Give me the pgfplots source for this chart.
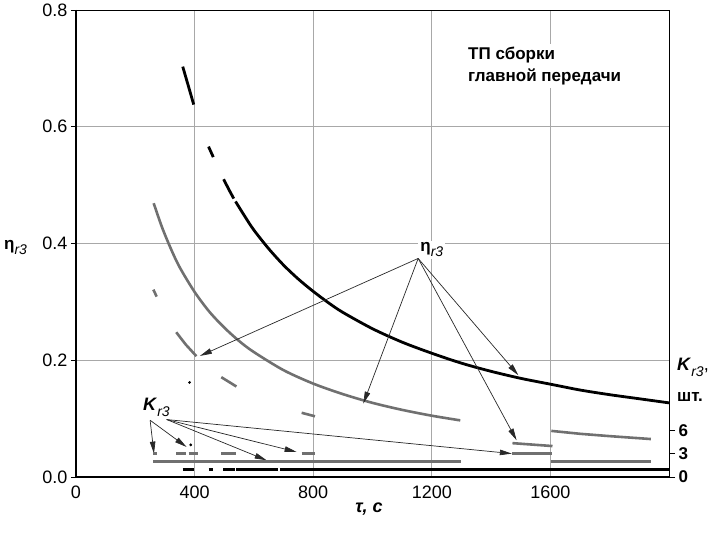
\documentclass[border=0pt]{standalone}
\usepackage{fontspec}
\setmainfont{Liberation Sans}
\usepackage{pgfplots}
\pgfplotsset{compat=1.18}
\usetikzlibrary{arrows.meta}

\definecolor{curvegray}{RGB}{112,112,112}
\definecolor{gridgray}{RGB}{168,168,168}
\definecolor{arrowgray}{RGB}{40,40,40}

\newcommand{\etar}{\textbf{η}\raisebox{-5pt}{\fontsize{14}{14}\selectfont\itshape r3}}
\newcommand{\Kr}{\textbf{\itshape K}\raisebox{-6pt}{\fontsize{14}{14}\selectfont\itshape r3}}

\tikzset{ann/.style={arrowgray, line width=0.7pt, -{Triangle[length=12pt,width=5.5pt]}}}

\begin{document}
\begin{tikzpicture}
\useasboundingbox (-76pt,-63pt) rectangle (635pt,477pt);

\begin{axis}[
    at={(0,0)}, anchor=south west,
    scale only axis, width=593pt, height=467pt,
    xmin=0, xmax=2000, ymin=0, ymax=0.8,
    xtick={0,400,800,1200,1600}, ytick={0,0.2,0.4,0.6,0.8},
    grid=major, grid style={gridgray, line width=0.7pt},
    axis line style={black, line width=0.8pt},
    ytick pos=left, tick align=outside, major tick length=5pt,
    xtick style={draw=none}, ytick style={black, line width=0.7pt},
    tick label style={font=\fontsize{18}{20}\selectfont, /pgf/number format/assume math mode=true},
    yticklabel style={/pgf/number format/.cd, fixed, fixed zerofill, precision=1},
    xticklabel style={/pgf/number format/1000 sep={}},
    unbounded coords=jump, clip=false,
]
% eta, black curve
\addplot[black, line width=2.8pt] coordinates {(360,0.703) (380,0.668) (397,0.638)};
\addplot[black, line width=2.8pt] coordinates {(447,0.566) (463,0.548)};
\addplot[black, line width=2.8pt] coordinates {(498,0.510) (515,0.493) (532,0.477)};
\addplot[black, line width=2.8pt, smooth] coordinates {
    (538,0.472) (570,0.446) (600,0.423) (650,0.391) (700,0.363) (750,0.339)
    (800,0.318) (850,0.299) (900,0.282) (1000,0.254) (1100,0.231) (1200,0.212)
    (1300,0.195) (1400,0.181) (1500,0.169) (1600,0.159) (1700,0.149)
    (1800,0.141) (1900,0.134) (2000,0.127)
};
% eta, gray solid curve
\addplot[curvegray, line width=2.6pt, smooth] coordinates {
    (262,0.469) (290,0.428) (320,0.391) (350,0.359) (400,0.317) (450,0.283)
    (500,0.256) (550,0.233) (600,0.214) (700,0.183) (800,0.160) (900,0.142)
    (1000,0.127) (1100,0.115) (1200,0.105) (1296,0.097)
};
\addplot[curvegray, line width=2.6pt] coordinates {(1603,0.079) (1700,0.074) (1800,0.070) (1939,0.065)};
% eta, gray dashed curve
\addplot[curvegray, line width=2.6pt] coordinates {
    (261,0.321) (272,0.309) (272,nan)
    (338,0.248) (370,0.227) (406,0.207) (406,nan)
    (490,0.171) (541,0.155) (541,nan)
    (761,0.110) (806,0.104) (806,nan)
    (1472,0.058) (1607,0.053)
};
% stray dots
\addplot[black, only marks, mark=*, mark size=1.2pt] coordinates {(383,0.162) (387,0.055)};

% annotations
\node[anchor=base west, fill=white, inner sep=3pt, font=\fontsize{17}{18}\selectfont\bfseries]
    at (axis cs:1312,0.7156) {ТП сборки};
\node[anchor=base west, fill=white, inner sep=3pt, font=\fontsize{17}{18}\selectfont\bfseries]
    at (axis cs:1312,0.678) {главной передачи};
\node[anchor=base west, fill=white, inner sep=2pt, font=\fontsize{17}{18}\selectfont]
    at (axis cs:1154,0.386) {\etar};
\node[anchor=base west, inner sep=0pt, font=\fontsize{17}{18}\selectfont]
    at (axis cs:-243,0.390) {\etar};
\node[anchor=base west, inner sep=0pt, font=\fontsize{18}{18}\selectfont]
    at (axis cs:226,0.1144) {\Kr};
\node[anchor=base west, inner sep=0pt, font=\fontsize{18}{18}\selectfont]
    at (axis cs:2027,0.183) {\Kr,};
\node[anchor=base west, inner sep=0pt, font=\fontsize{17}{18}\selectfont\bfseries]
    at (axis cs:2027,0.1286) {шт.};
\node[anchor=base, inner sep=0pt, font=\fontsize{18}{18}\selectfont\bfseries\itshape]
    at (axis cs:988,-0.0605) {τ, с};

\draw[ann] (axis cs:1154,0.3744) -- (axis cs:418,0.2074);
\draw[ann] (axis cs:1154,0.3744) -- (axis cs:969,0.1258);
\draw[ann] (axis cs:1154,0.3744) -- (axis cs:1492,0.1743);
\draw[ann] (axis cs:1154,0.3744) -- (axis cs:1486,0.0629);

\draw[ann] (axis cs:250,0.0972) -- (axis cs:263,0.0401);
\draw[ann] (axis cs:250,0.0972) -- (axis cs:373,0.0514);
\draw[ann] (axis cs:306,0.0984) -- (axis cs:643,0.0286);
\draw[ann] (axis cs:306,0.0984) -- (axis cs:744,0.0429);
\draw[ann] (axis cs:306,0.0984) -- (axis cs:1470,0.0401);

\draw[black, line width=2pt] (rel axis cs:0,1) -- (rel axis cs:0,0) -- (rel axis cs:1,0);
\end{axis}

% K, pieces (right scale)
\begin{axis}[
    at={(0,0)}, anchor=south west,
    scale only axis, width=593pt, height=467pt,
    xmin=0, xmax=2000, ymin=0, ymax=60,
    axis x line=none, axis y line*=right,
    axis line style={black, line width=0.8pt},
    ytick={0,3,6}, tick align=outside, major tick length=6pt,
    ytick style={black, line width=0.7pt},
    yticklabel style={font=\fontsize{17}{18}\selectfont\bfseries, /pgf/number format/assume math mode=true},
    unbounded coords=jump, clip=false,
]
\addplot[curvegray, line width=2.6pt] coordinates {
    (261,3) (272,3) (272,nan)
    (338,3) (370,3) (370,nan)
    (380,3) (410,3) (410,nan)
    (490,3) (541,3) (541,nan)
    (761,3) (806,3) (806,nan)
    (1472,3) (1607,3)
};
\addplot[curvegray, line width=2.6pt] coordinates {
    (260,2) (1297,2) (1297,nan)
    (1603,2) (1939,2)
};
\addplot[black, line width=2.8pt] coordinates {
    (360,1) (397,1) (397,nan)
    (447,1) (461,1) (461,nan)
    (497,1) (537,1) (537,nan)
    (541,1) (681,1) (681,nan)
    (688,1) (2000,1)
};
\end{axis}
\end{tikzpicture}
\end{document}
